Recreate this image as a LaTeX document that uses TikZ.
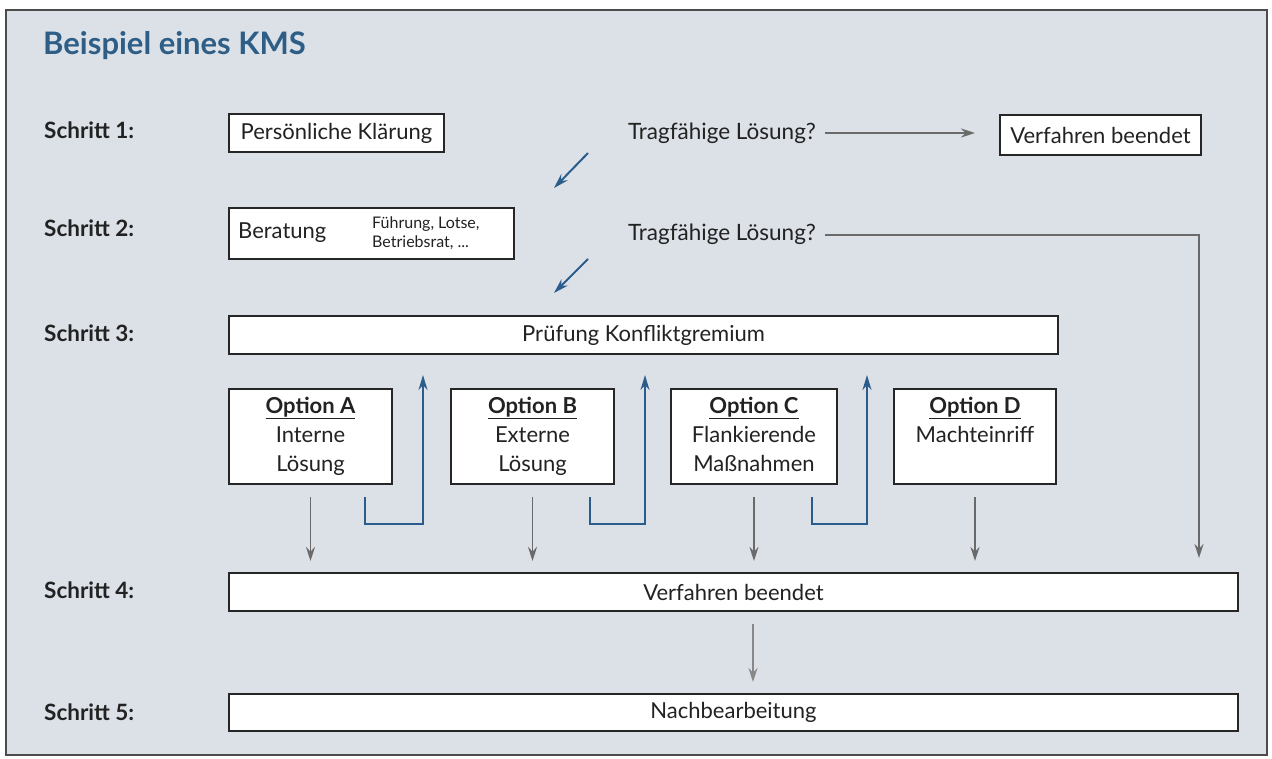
\documentclass[tikz,border=0pt]{standalone}
\usepackage{fontspec}
\setmainfont{Lato}
\usetikzlibrary{arrows.meta,calc}
\definecolor{bg}{HTML}{DCE1E8}
\definecolor{titleblue}{HTML}{2E5E86}
\definecolor{arrblue}{HTML}{2B5D8C}
\definecolor{arrgray}{HTML}{6A6A6A}
\definecolor{txt}{HTML}{222222}
\begin{document}
\begin{tikzpicture}[x=1pt,y=-1pt,
  box/.style={draw=black!85,line width=2pt,fill=white,inner sep=0pt,anchor=north west,
    text=txt,font=\fontsize{22}{26}\selectfont},
  steplabel/.style={anchor=west,text=txt,font=\bfseries\fontsize{22.5}{26}\selectfont,inner sep=0pt},
  plain/.style={text=txt,font=\fontsize{22.5}{26}\selectfont,inner sep=0pt},
  opttext/.style={anchor=north,align=center,text=txt,font=\fontsize{22}{29}\selectfont,inner sep=0pt},
  grayarr/.style={draw=arrgray,line width=1.8pt,-{Stealth[length=14pt,width=9pt]}},
  bluearr/.style={draw=arrblue,line width=2pt,-{Stealth[length=15pt,width=9pt]}}
]
\useasboundingbox (0,0) rectangle (1272,758);
\fill[white] (0,0) rectangle (1272,758);
\draw[fill=bg,draw=black!70,line width=2pt] (6,10) rectangle (1267,755);

% title
\node[anchor=west,text=titleblue,font=\bfseries\fontsize{31}{36}\selectfont,inner sep=0pt] (title) at (43,46) {Beispiel eines KMS};

% step labels
\node[steplabel] (s1) at (44,130) {Schritt 1:};
\node[steplabel] (s2) at (44,228) {Schritt 2:};
\node[steplabel] (s3) at (44,333) {Schritt 3:};
\node[steplabel] (s4) at (44,590) {Schritt 4:};
\node[steplabel] (s5) at (44,712) {Schritt 5:};

% step 1
\node[box,minimum width=215pt,minimum height=38pt] (pk) at (228,113) {Persönliche Klärung};
\node[plain] (tf1) at (722,133) {Tragfähige Lösung?};
\node[box,minimum width=201pt,minimum height=40pt] (vb1) at (999,114) {Verfahren beendet};
\coordinate (a1) at ($(tf1.east)+(9,0)$);
\draw[grayarr] (a1) -- ($(a1 -| vb1.west)+(-24,0)$);
\coordinate (d1a) at (588,153);
\coordinate (d1b) at (554,188);
\draw[bluearr] (d1a) -- (d1b);

% step 2
\node[box,minimum width=285pt,minimum height=51pt] (ber) at (228,207) {};
\node[plain,anchor=west,font=\fontsize{22}{26}\selectfont] (bert) at (238,233) {Beratung};
\node[anchor=west,align=left,text=txt,font=\fontsize{16}{19}\selectfont,inner sep=0pt] (bers) at (372,233) {Führung, Lotse,\\Betriebsrat, ...};
\node[plain] (tf2) at (722,234) {Tragfähige Lösung?};
\coordinate (d2a) at (588,259);
\coordinate (d2b) at (554,293);
\draw[bluearr] (d2a) -- (d2b);

% step 3
\node[box,minimum width=829pt,minimum height=38pt] (pr) at (228,315) {Prüfung Konfliktgremium};

\node[box,minimum width=163pt,minimum height=95pt] (oa) at (228,388) {};
\node[box,minimum width=163pt,minimum height=95pt] (ob) at (450,388) {};
\node[box,minimum width=166pt,minimum height=95pt] (oc) at (670,388) {};
\node[box,minimum width=162pt,minimum height=95pt] (od) at (893,388) {};
\node[opttext] (ta) at ($(oa.north)+(0,9)$) {\textbf{\underline{Option A}}\\Interne\\Lösung};
\node[opttext] (tb) at ($(ob.north)+(0,9)$) {\textbf{\underline{Option B}}\\Externe\\Lösung};
\node[opttext] (tc) at ($(oc.north)+(0,9)$) {\textbf{\underline{Option C}}\\Flankierende\\Maßnahmen};
\node[opttext] (td) at ($(od.north)+(0,9)$) {\textbf{\underline{Option D}}\\Machteinriff};

% step 4 / 5
\node[box,minimum width=1009pt,minimum height=38pt] (v4) at (228,572) {Verfahren beendet};
\node[box,minimum width=1009pt,minimum height=37pt] (nb) at (228,693) {Nachbearbeitung};

% gray down arrows from options
\foreach \o in {oa,ob,oc,od}{
  \draw[grayarr,shorten >=11pt] ($(\o.south)+(0,12)$) -- (\o.south |- v4.north);
}
% blue return arrows
\draw[bluearr,shorten >=20pt] ($(oa.south east)+(-28,12)$) |- ++(58,27) coordinate (ra) -- (ra |- pr.south);
\draw[bluearr,shorten >=20pt] ($(ob.south east)+(-25,12)$) |- ++(55,27) coordinate (rb) -- (rb |- pr.south);
\draw[bluearr,shorten >=20pt] ($(oc.south east)+(-26,12)$) |- ++(55,27) coordinate (rc) -- (rc |- pr.south);

% step 2 long line
\coordinate (a2) at ($(tf2.east)+(9,1)$);
\coordinate (corner) at (1199,235);
\draw[grayarr,shorten >=14pt] (a2) -- (corner) -- (corner |- v4.north);

% 4 -> 5
\draw[draw=arrgray!80,line width=1.6pt,-{Stealth[length=14pt,width=9pt]},shorten <=12pt,shorten >=11pt] (v4.south -| 753,0) -- (nb.north -| 753,0);
\end{tikzpicture}
\end{document}
